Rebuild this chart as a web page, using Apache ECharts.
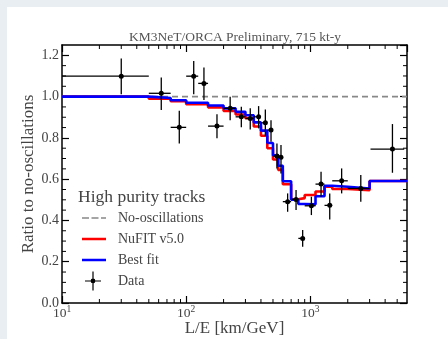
<!DOCTYPE html>
<html><head><meta charset="utf-8">
<script src="https://cdn.jsdelivr.net/npm/echarts@6/dist/echarts.min.js"></script>
<style>
html,body{margin:0;padding:0;background:#e8eef2;}
#panel{position:absolute;left:7px;top:7px;width:441px;height:332px;background:#fff;}
#c{position:absolute;left:0;top:0;width:448px;height:339px;}
</style>
</head><body><div id="panel"></div><div id="c"></div>
<script>
// Model bins (L/E edges, km/GeV) and ratio to no-oscillations per bin
const binEdges = [10,50,75,100,150,200,250,300,350,400,450,500,550,600,700,800,900,1100,1300,1500,2000,3000,6000];
const nufitRatio   = [1.000,0.990,0.978,0.963,0.948,0.930,0.913,0.895,0.855,0.810,0.750,0.695,0.645,0.575,0.503,0.508,0.523,0.540,0.563,0.552,0.547,0.591];
const bestFitRatio = [1.000,0.993,0.982,0.970,0.957,0.943,0.926,0.910,0.875,0.835,0.775,0.715,0.665,0.590,0.500,0.480,0.478,0.517,0.568,0.563,0.555,0.591];
const noOscRatio = [1.0, 1.0];
const noOscLE = [10, 6000];

// Data points
const dataLE        = [30,63,88,115,139,177,226,278,328,383,434,482,538,580,656,767,867,1019,1219,1432,1786,2547,4581];
const dataLELow     = [10,50,75,100,125,150,200,250,300,350,400,450,500,550,600,700,800,900,1100,1300,1500,2000,3050];
const dataLEHigh    = [50,75,100,125,150,200,250,300,350,400,450,500,550,600,700,800,900,1100,1300,1500,2000,3000,5700];
const dataRatio     = [1.099,1.016,0.851,1.099,1.064,0.857,0.943,0.902,0.894,0.902,0.873,0.838,0.712,0.706,0.491,0.502,0.313,0.471,0.576,0.473,0.592,0.555,0.746];
const dataRatioLow  = [1.011,0.935,0.773,1.011,0.983,0.798,0.886,0.851,0.841,0.846,0.809,0.781,0.652,0.628,0.442,0.450,0.273,0.426,0.515,0.405,0.531,0.491,0.631];
const dataRatioHigh = [1.185,1.093,0.931,1.173,1.141,0.915,0.999,0.951,0.943,0.954,0.938,0.886,0.773,0.765,0.531,0.547,0.354,0.515,0.636,0.531,0.652,0.620,0.867];

// Axis ticks
const xMinorTicks = [20,30,40,50,60,70,80,90,200,300,400,500,600,700,800,900,2000,3000,4000,5000];
const yMinorTicks = [0.05,0.1,0.15,0.25,0.3,0.35,0.45,0.5,0.55,0.65,0.7,0.75,0.85,0.9,0.95,1.05,1.1,1.15];

const FONT = '"Liberation Serif","DejaVu Serif",serif';
const TXT = '#444';

function stepData(edges, vals){
  return edges.map((e,i)=>[e, vals[Math.min(i, vals.length-1)]]);
}

const chart = echarts.init(document.getElementById('c'), null, {renderer:'canvas'});
const yMin = 0, yMax = 1.25;

const axisCommonX = {
  type:'log', logBase:10, min:10, max:6000,
  axisLine:{show:true, onZero:false, lineStyle:{color:'#000', width:1.5}},
  axisTick:{show:true, inside:true, length:7, lineStyle:{color:'#000', width:1.2}},
  splitLine:{show:false}, minorTick:{show:false}
};
const axisCommonY = {
  type:'value', min:yMin, max:yMax, interval:0.2,
  axisLine:{show:true, onZero:false, lineStyle:{color:'#000', width:1.5}},
  axisTick:{show:true, inside:true, length:7, lineStyle:{color:'#000', width:1.2}},
  minorTick:{show:false},
  splitLine:{show:false}
};

const BB = 'M0,0h0.05v0.05h-0.05z M23.95,19.95h0.05v0.05h-0.05z ';
const dataIcon = 'path://' + BB + 'M3,9.4h16v1.2h-16z M10.4,0.5h1.2v19h-1.2z M8.6,10a2.4,2.4 0 1,1 4.8,0a2.4,2.4 0 1,1 -4.8,0z';
const lineIcon = 'path://' + BB + 'M0,8.7h24v2.6h-24z';
const dashIcon = 'path://' + BB + 'M0,9.2h7v1.6h-7z M9.5,9.2h7v1.6h-7z M19,9.2h5v1.6h-5z';

const option = {
  animation:false,
  backgroundColor:'transparent',
  title:[
    {text:'KM3NeT/ORCA Preliminary, 715 kt-y', left:235, top:30, textAlign:'center',
     textStyle:{fontFamily:FONT, fontSize:13.5, fontWeight:'normal', color:'#555'}, padding:0},
    {text:'High purity tracks', left:78, top:188,
     textStyle:{fontFamily:FONT, fontSize:17.5, fontWeight:'normal', color:TXT}, padding:0}
  ],
  grid:{left:62, right:41, top:45, bottom:36, containLabel:false, outerBoundsMode:'none'},
  legend:{
    orient:'vertical', left:82, top:208, padding:0, itemGap:1, itemWidth:24, itemHeight:20,
    textStyle:{fontFamily:FONT, fontSize:14, color:TXT, padding:[0,0,0,7]},
    data:[
      {name:'No-oscillations', icon:dashIcon, itemStyle:{color:'#888'}},
      {name:'NuFIT v5.0', icon:lineIcon, itemStyle:{color:'#ff0000'}},
      {name:'Best fit', icon:lineIcon, itemStyle:{color:'#0000ff'}},
      {name:'Data', icon:dataIcon, itemStyle:{color:'#000'}}
    ]
  },
  xAxis:[
    Object.assign({}, axisCommonX, {position:'bottom',
      name:'L/E [km/GeV]', nameLocation:'middle', nameGap:17, nameMoveOverlap:false,
      nameTextStyle:{fontFamily:FONT, fontSize:17, color:TXT},
      axisLabel:{show:true, margin:1, showMaxLabel:false,
        formatter:function(v){ const e = Math.round(Math.log10(v)); if (Math.abs(Math.log10(v)-e)>1e-6) return ''; return '{a|10}{b|' + e + '}'; },
        rich:{
          a:{fontFamily:FONT, fontSize:13.5, color:TXT, lineHeight:16, verticalAlign:'bottom'},
          b:{fontFamily:FONT, fontSize:9.5, color:TXT, lineHeight:6, verticalAlign:'top'}
        }}}),
    Object.assign({}, axisCommonX, {position:'top', axisLabel:{show:false}})
  ],
  yAxis:[
    Object.assign({}, axisCommonY, {position:'left',
      name:'Ratio to no-oscillations', nameLocation:'middle', nameGap:25, nameRotate:90, nameMoveOverlap:false,
      nameTextStyle:{fontFamily:FONT, fontSize:17, color:TXT},
      axisLabel:{show:true, margin:3, fontFamily:FONT, fontSize:14, color:TXT, showMaxLabel:false,
        formatter:function(v){ return v.toFixed(1); }}}),
    Object.assign({}, axisCommonY, {position:'right', axisLabel:{show:false}})
  ],
  series:[
    {name:'No-oscillations', type:'line', data:noOscLE.map((x,i)=>[x,noOscRatio[i]]), symbol:'none',
     lineStyle:{color:'#888', width:1.6, type:[6,4]}, itemStyle:{color:'#888'}, z:2},
    {name:'NuFIT v5.0', type:'line', step:'end', data:stepData(binEdges,nufitRatio), symbol:'none',
     lineStyle:{color:'#ff0000', width:2.6}, itemStyle:{color:'#ff0000'}, z:3},
    {name:'Best fit', type:'line', step:'end', data:stepData(binEdges,bestFitRatio), symbol:'none',
     lineStyle:{color:'#0000ff', width:2.6}, itemStyle:{color:'#0000ff'}, z:4},
    {name:'Data', type:'custom', z:5, itemStyle:{color:'#000'},
     data:dataLE.map((x,i)=>[x, dataRatio[i], dataLELow[i], dataLEHigh[i], dataRatioLow[i], dataRatioHigh[i]]),
     encode:{x:0, y:1},
     renderItem:function(params, api){
       const x = api.value(0), y = api.value(1);
       const c = api.coord([x,y]);
       const l = api.coord([api.value(2), y]);
       const r = api.coord([api.value(3), y]);
       const b = api.coord([x, api.value(4)]);
       const t = api.coord([x, api.value(5)]);
       const st = {stroke:'#000', lineWidth:1.3};
       return {type:'group', children:[
         {type:'line', shape:{x1:l[0], y1:c[1], x2:r[0], y2:c[1]}, style:st},
         {type:'line', shape:{x1:c[0], y1:t[1], x2:c[0], y2:b[1]}, style:st},
         {type:'circle', shape:{cx:c[0], cy:c[1], r:2.5}, style:{fill:'#000'}}
       ]};
     }},
    {name:'xMinor', type:'custom', silent:true, z:10, clip:false,
     data:xMinorTicks.map(v=>[v, 0.5]),
     encode:{x:0, y:1},
     renderItem:function(params, api){
       const v = api.value(0);
       const bt = api.coord([v, yMin]);
       const tp = api.coord([v, yMax]);
       return {type:'group', children:[
         {type:'rect', shape:{x:bt[0]-0.5, y:bt[1]-4, width:1, height:4}, style:{fill:'#000'}},
         {type:'rect', shape:{x:tp[0]-0.5, y:tp[1], width:1, height:4}, style:{fill:'#000'}}
       ]};
     }},
    {name:'yMinor', type:'custom', silent:true, z:10, clip:false,
     data:yMinorTicks.map(v=>[100, v]),
     encode:{x:0, y:1},
     renderItem:function(params, api){
       const v = api.value(1);
       const lf = api.coord([10, v]);
       const rt = api.coord([6000, v]);
       return {type:'group', children:[
         {type:'rect', shape:{x:lf[0], y:lf[1]-0.5, width:4, height:1}, style:{fill:'#000'}},
         {type:'rect', shape:{x:rt[0]-4, y:rt[1]-0.5, width:4, height:1}, style:{fill:'#000'}}
       ]};
     }}
  ]
};
chart.setOption(option);
</script>
</body></html>
